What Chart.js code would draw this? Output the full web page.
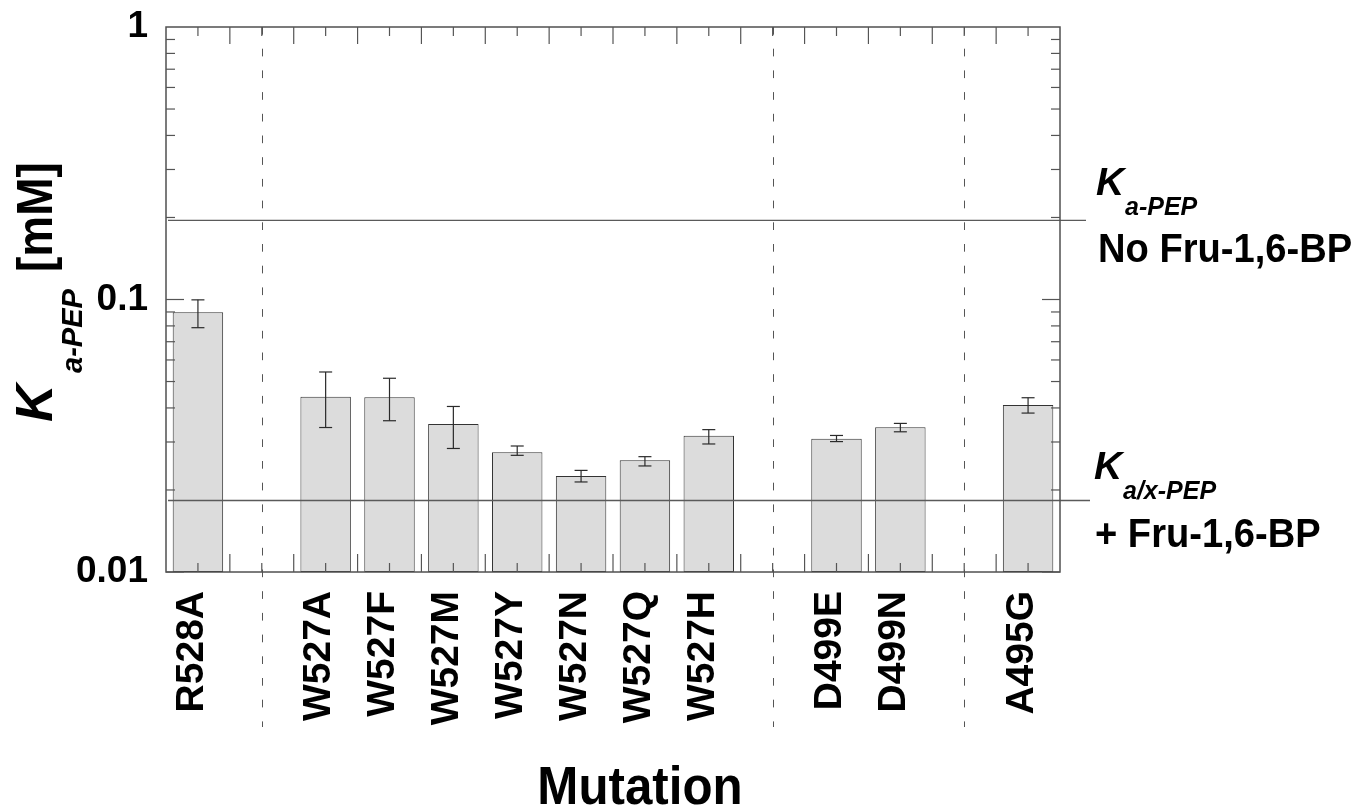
<!DOCTYPE html>
<html>
<head>
<meta charset="utf-8">
<script src="https://cdn.jsdelivr.net/npm/chart.js@4"></script>
<style>
  html, body { margin: 0; padding: 0; background: #ffffff; }
  #wrap { width: 1361px; height: 808px; position: relative; }
</style>
</head>
<body>
<div id="wrap"><canvas id="c"></canvas></div>
<script>
// ---- data ----
const categories = ['R528A', '', 'W527A', 'W527F', 'W527M', 'W527Y', 'W527N', 'W527Q', 'W527H', '', 'D499E', 'D499N', '', 'A495G'];
const kaValues  = [0.0897, null, 0.0440, 0.0438, 0.0349, 0.0275, 0.0225, 0.0257, 0.0316, null, 0.0308, 0.0340, null, 0.0410];
const errHigh   = [0.0997, null, 0.0542, 0.0514, 0.0405, 0.0290, 0.0236, 0.0265, 0.0333, null, 0.0317, 0.0351, null, 0.0436];
const errLow    = [0.0788, null, 0.0339, 0.0359, 0.0284, 0.0268, 0.0214, 0.0245, 0.0295, null, 0.0301, 0.0327, null, 0.0383];
const gapIndices = [1, 9, 12];
const refNoFBP = 0.195;
const refWithFBP = 0.0183;
const yTickValues = [0.01, 0.1, 1];
const yTickLabels = ['0.01', '0.1', '1'];
const xTitle = 'Mutation';

const FONT = '"Liberation Sans", Arial, Helvetica, sans-serif';

function drawText(ctx, text, x, y, font, sx, align) {
  ctx.save();
  ctx.translate(x, y);
  ctx.scale(sx || 1, 1);
  ctx.font = font;
  ctx.textAlign = align || 'left';
  ctx.textBaseline = 'alphabetic';
  ctx.fillStyle = '#000';
  ctx.fillText(text, 0, 0);
  ctx.restore();
}

const decor = {
  id: 'decor',
  afterDatasetsDraw(chart) {
    const ctx = chart.ctx;
    const a = chart.chartArea;
    const xs = chart.scales.x, ys = chart.scales.y;
    const line = (x1, y1, x2, y2) => { ctx.beginPath(); ctx.moveTo(x1, y1); ctx.lineTo(x2, y2); ctx.stroke(); };
    ctx.save();

    // error bars
    ctx.strokeStyle = '#2a2a2a';
    ctx.lineWidth = 1.2;
    kaValues.forEach((v, i) => {
      if (v == null) return;
      const px = xs.getPixelForValue(i);
      const yh = ys.getPixelForValue(errHigh[i]);
      const yl = ys.getPixelForValue(errLow[i]);
      line(px, yh, px, yl);
      line(px - 6.5, yh, px + 6.5, yh);
      line(px - 6.5, yl, px + 6.5, yl);
    });

    // reference lines
    ctx.strokeStyle = '#5a5a5a';
    ctx.lineWidth = 1.3;
    line(a.left + 2, ys.getPixelForValue(refNoFBP), 1086, ys.getPixelForValue(refNoFBP));
    line(a.left + 2, ys.getPixelForValue(refWithFBP), 1090, ys.getPixelForValue(refWithFBP));

    // dashed separators
    ctx.strokeStyle = '#555';
    ctx.lineWidth = 1;
    ctx.setLineDash([7.7, 14]);
    gapIndices.forEach(i => {
      const px = Math.round(xs.getPixelForValue(i)) + 0.5;
      line(px, a.top, px, 727);
    });
    ctx.setLineDash([]);

    // frame
    ctx.strokeStyle = '#505050';
    ctx.lineWidth = 1.5;
    ctx.strokeRect(a.left, a.top, a.right - a.left, a.bottom - a.top);

    // x ticks (inward, bottom and top)
    ctx.lineWidth = 1.2;
    ctx.strokeStyle = '#555';
    for (let i = 0; i < categories.length; i++) {
      const px = xs.getPixelForValue(i);
      line(px, a.bottom, px, a.bottom - 9);
      line(px, a.top, px, a.top + 9);
    }
    for (let i = 0; i < categories.length - 1; i++) {
      const px = (xs.getPixelForValue(i) + xs.getPixelForValue(i + 1)) / 2;
      line(px, a.bottom, px, a.bottom - 18);
      line(px, a.top, px, a.top + 17);
    }

    // y ticks (inward, left and right)
    for (let d = -2; d <= -1; d++) {
      for (let m = 1; m <= 9; m++) {
        const v = m * Math.pow(10, d);
        const py = ys.getPixelForValue(v);
        const len = m === 1 ? 18 : 9;
        line(a.left, py, a.left + len, py);
        line(a.right, py, a.right - len, py);
      }
    }

    // y-axis title (rotated)
    ctx.save();
    ctx.translate(52, 422);
    ctx.rotate(-Math.PI / 2);
    drawText(ctx, 'K', 0, 0, 'italic bold 52px ' + FONT, 1);
    drawText(ctx, 'a-PEP', 49, 30, 'italic bold 29px ' + FONT, 1);
    drawText(ctx, '[mM]', 150, 0, 'bold 50px ' + FONT, 0.92);
    ctx.restore();

    // x-axis title
    drawText(ctx, xTitle, 640, 804, 'bold 53px ' + FONT, 0.93, 'center');

    // right annotations
    drawText(ctx, 'K', 1096, 195, 'italic bold 39px ' + FONT, 1);
    drawText(ctx, 'a-PEP', 1125, 215, 'italic bold 25px ' + FONT, 1);
    drawText(ctx, 'No Fru-1,6-BP', 1098, 262, 'bold 41px ' + FONT, 0.93);
    drawText(ctx, 'K', 1094, 479, 'italic bold 39px ' + FONT, 1);
    drawText(ctx, 'a/x-PEP', 1123, 499, 'italic bold 25px ' + FONT, 1);
    drawText(ctx, '+ Fru-1,6-BP', 1095, 547, 'bold 41px ' + FONT, 0.93);

    ctx.restore();
  }
};

new Chart(document.getElementById('c'), {
  type: 'bar',
  data: {
    labels: categories,
    datasets: [{
      data: kaValues,
      backgroundColor: '#dcdcdc',
      borderColor: '#333333',
      borderWidth: 1,
      borderSkipped: false,
      barPercentage: 0.79,
      categoryPercentage: 1.0
    }]
  },
  options: {
    responsive: true,
    maintainAspectRatio: false,
    animation: false,
    events: [],
    layout: { padding: { top: 27, right: 301, left: 0, bottom: 0 } },
    plugins: { legend: { display: false }, tooltip: { enabled: false }, title: { display: false } },
    scales: {
      x: {
        type: 'category',
        offset: true,
        grid: { display: false, drawTicks: false },
        border: { display: false },
        ticks: {
          autoSkip: false,
          maxRotation: 90,
          minRotation: 90,
          padding: 19,
          labelOffset: -6,
          color: '#000',
          font: { family: FONT, size: 39, weight: 'bold' }
        },
        afterFit(s) { s.height = 236; s.paddingLeft = 0; s.paddingRight = 0; s.paddingTop = 0; s.paddingBottom = 0; }
      },
      y: {
        type: 'logarithmic',
        min: 0.01,
        max: 1,
        grid: { display: false, drawTicks: false },
        border: { display: false },
        afterBuildTicks(s) { s.ticks = yTickValues.map(v => ({ value: v, major: true })); },
        ticks: {
          padding: 18,
          color: '#000',
          font: { family: FONT, size: 37, weight: 'bold' },
          callback(value) {
            const i = yTickValues.findIndex(t => Math.abs(t - value) < 1e-9);
            return i >= 0 ? yTickLabels[i] : '';
          }
        },
        afterFit(s) { s.width = 166; s.paddingTop = 0; s.paddingBottom = 0; s.paddingLeft = 0; s.paddingRight = 0; }
      }
    }
  },
  plugins: [decor]
});
</script>
</body>
</html>
